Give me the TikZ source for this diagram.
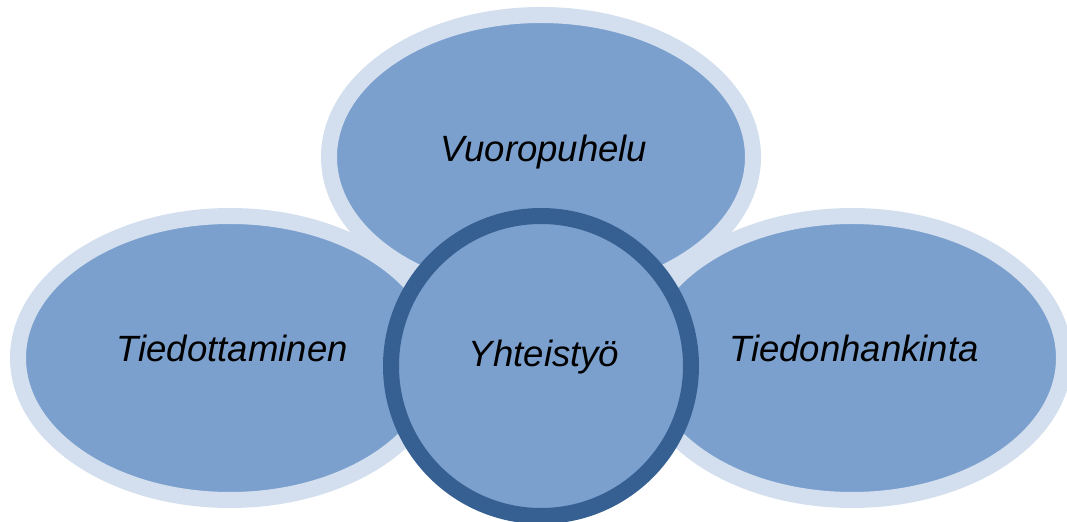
\documentclass[tikz,border=0pt]{standalone}
\usepackage{fontspec}
\setmainfont{Liberation Sans}
\definecolor{bubblefill}{HTML}{7BA0CD}
\definecolor{ringlight}{HTML}{D3DFEE}
\definecolor{ringdark}{HTML}{366092}

\begin{document}
\begin{tikzpicture}[
    ring/.style={fill=bubblefill, draw=ringlight, line width=0.4cm},
    hubring/.style={fill=bubblefill, draw=ringdark, line width=0.4cm},
    bubbletext/.style={anchor=base, inner sep=0pt, font=\fontsize{26}{31}\selectfont\itshape}
]
\useasboundingbox (0,0) rectangle (26.675,13.05);

%definitions
\def\topellip{(13.525, 9.125) ellipse [x radius=5.3cm, y radius=3.55cm]}
%
\def\leftellip{(5.75, 4.1) ellipse [x radius=5.3cm, y radius=3.55cm]}

\def\rightellip{(21.3, 4.1) ellipse [x radius=5.3cm, y radius=3.55cm]}

\def\hubcircle{(13.525, 3.9) circle [radius=3.75cm]}

%shapes

\filldraw[ring] \topellip;

\filldraw[ring] \leftellip;

\filldraw[ring] \rightellip;

\filldraw[hubring] \hubcircle;

%texts

\node[bubbletext] (vuoro) at (13.6, 9.0) {Vuoropuhelu};

\node[bubbletext] (tiedot) at (5.8, 4.0) {Tiedottaminen};

\node[bubbletext] (hankinta) at (21.35, 4.0) {Tiedonhankinta};

\node[bubbletext] (yhteis) at (13.6, 3.875) {Yhteistyö};
\end{tikzpicture}
\end{document}
